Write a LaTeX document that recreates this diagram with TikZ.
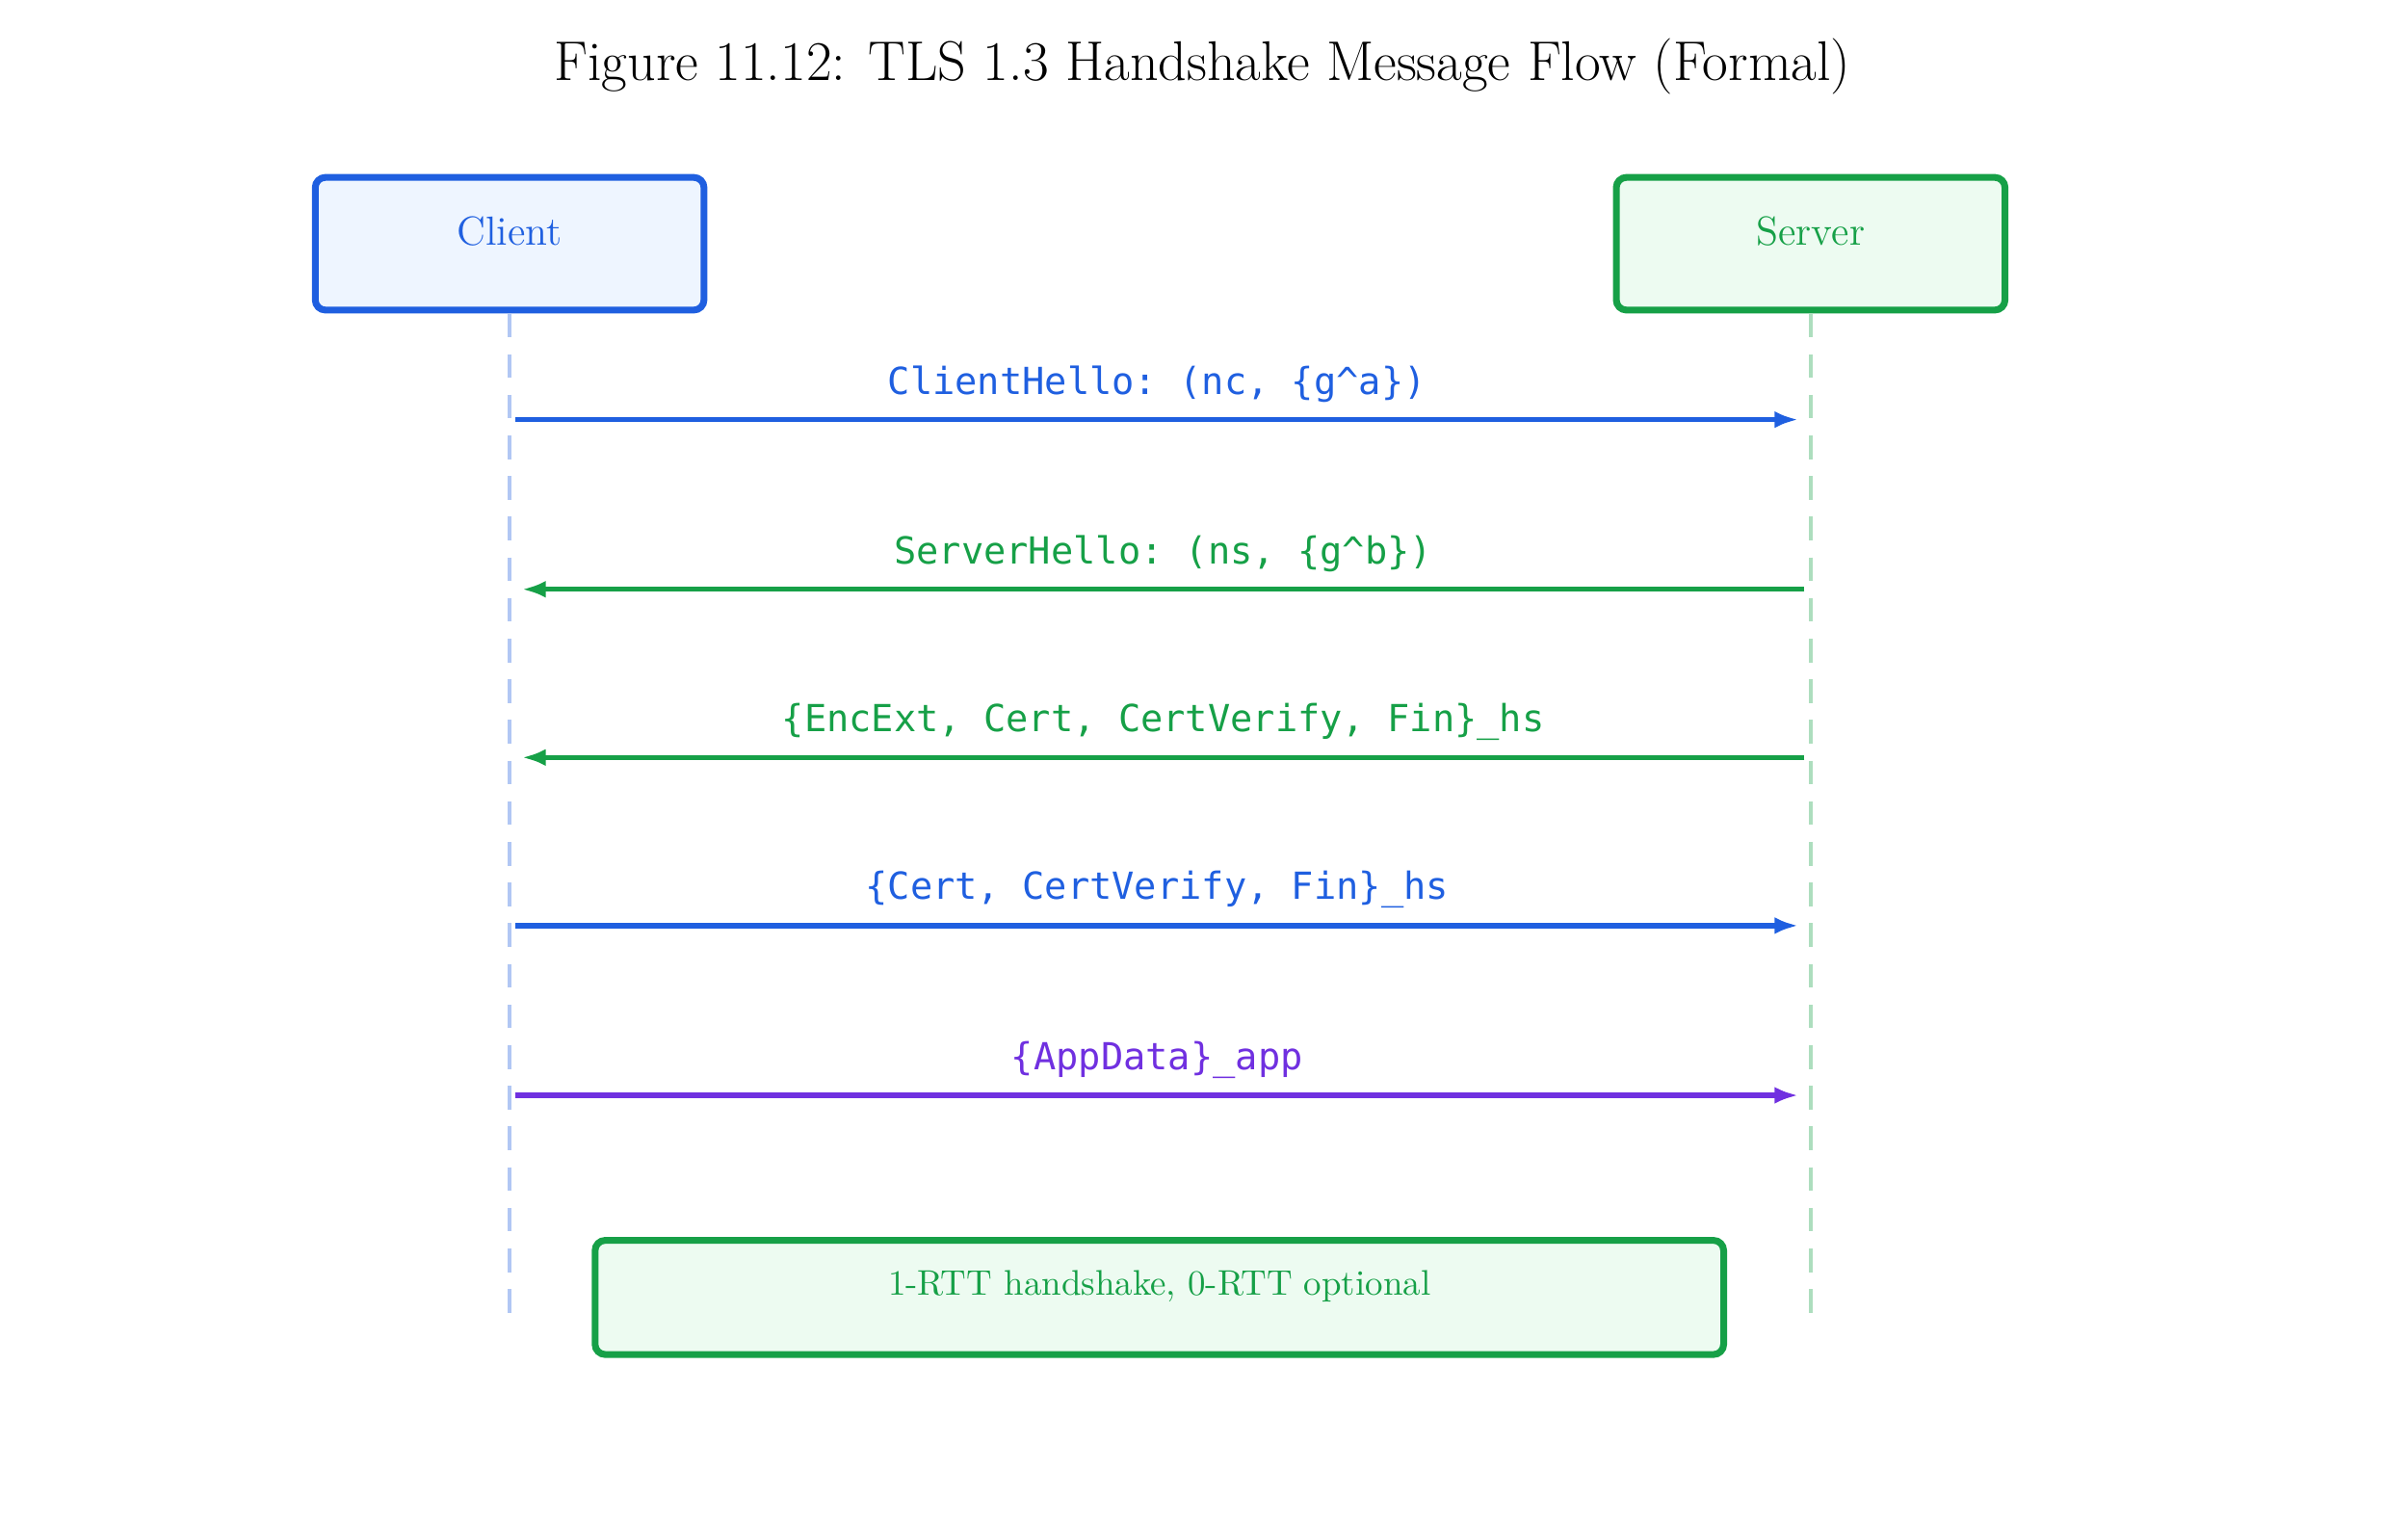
\documentclass[tikz,border=0pt]{standalone}
\usepackage{fontspec}
\setmonofont{DejaVu Sans Mono}
\usetikzlibrary{arrows.meta}
\definecolor{cblue}{HTML}{1F5FE0}
\definecolor{cgreen}{HTML}{16A047}
\definecolor{cpurple}{HTML}{7030E0}
\definecolor{cbluefill}{HTML}{EEF5FF}
\definecolor{cgreenfill}{HTML}{EDFBF1}
\tikzset{
  actor/.style={draw, line width=2pt, rounded corners=3pt, minimum width=252*0.016cm, minimum height=86*0.016cm},
  atext/.style={font=\fontsize{12}{14}\selectfont},
  life/.style={line width=1.3pt, dash pattern=on 7pt off 5pt},
  msg/.style={line width=1.5pt, -{Latex[length=7pt,width=5pt]}},
  lbl/.style={font=\ttfamily\fontsize{11}{13}\selectfont, anchor=south}
}
\begin{document}
\begin{tikzpicture}[x=0.01598cm,y=-0.016cm]
\useasboundingbox (0,0) rectangle (1564,987);
\node (title) at (781,43) {\fontsize{16.5}{20}\selectfont Figure 11.12: TLS 1.3 Handshake Message Flow (Formal)};
\node[actor, draw=cblue, fill=cbluefill] (client) at (331,158) {};
\node[atext, text=cblue] (clientt) at (331,150) {Client};
\node[actor, draw=cgreen, fill=cgreenfill] (server) at (1176,158) {};
\node[atext, text=cgreen] (servert) at (1176,150) {Server};
\coordinate (cend) at (331,852);
\coordinate (send) at (1176,852);
\draw[life, cblue!35] (client.south) -- (cend);
\draw[life, cgreen!35] (server.south) -- (send);
\foreach \y/\n in {272/a,382/b,491/c,600/d,710/e}{
  \coordinate (cl\n) at (335,\y);
  \coordinate (sv\n) at (1172,\y);
  \coordinate (cr\n) at (339,\y);
  \coordinate (sl\n) at (1168,\y);
}
\draw[msg, cblue] (cla) -- (sla) node[lbl, text=cblue, midway, above=1pt] {ClientHello: (nc, \{g\textasciicircum a\})};
\draw[msg, cgreen] (svb) -- (crb) node[lbl, text=cgreen, midway, above=1pt] {ServerHello: (ns, \{g\textasciicircum b\})};
\draw[msg, cgreen] (svc) -- (crc) node[lbl, text=cgreen, midway, above=1pt] {\{EncExt, Cert, CertVerify, Fin\}\_hs};
\draw[msg, cblue] (cld) -- (sld) node[lbl, text=cblue, midway, above=1pt] {\{Cert, CertVerify, Fin\}\_hs};
\draw[msg, cpurple] (cle) -- (sle) node[lbl, text=cpurple, midway, above=1pt] {\{AppData\}\_app};
\node[draw=cgreen, fill=cgreenfill, line width=2pt, rounded corners=3pt, minimum width=733*0.01598cm, minimum height=74*0.016cm] (note) at (753,841) {};
\node[text=cgreen, font=\fontsize{10.5}{13}\selectfont] (notet) at (753,834) {1-RTT handshake, 0-RTT optional};
\end{tikzpicture}
\end{document}
